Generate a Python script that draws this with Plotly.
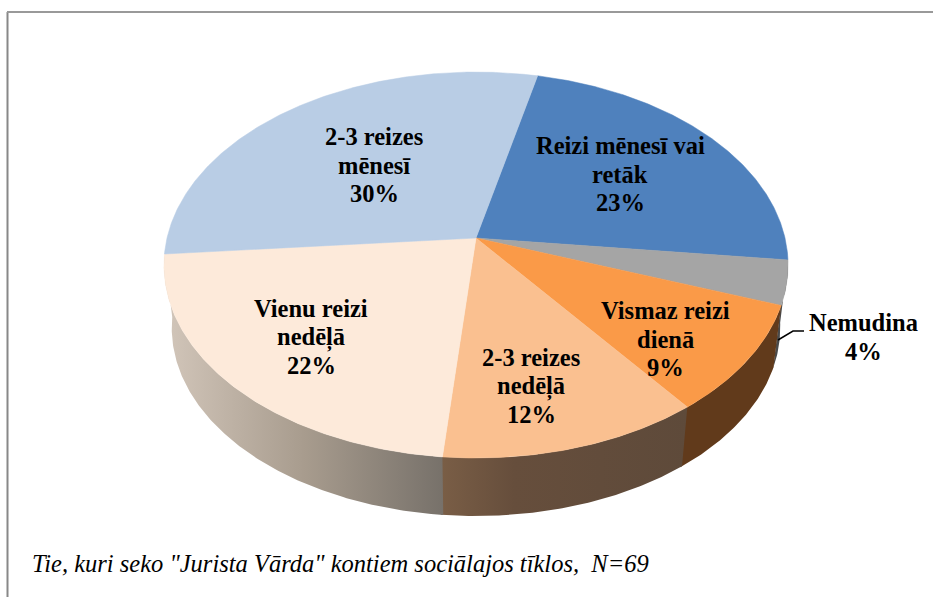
import math
import plotly.graph_objects as go

# ---- data, clockwise from the first slice ----
categories = ["Reizi mēnesī vai<br>retāk", "Nemudina", "Vismaz reizi<br>dienā",
              "2-3 reizes<br>nedēļā", "Vienu reizi<br>nedēļā", "2-3 reizes<br>mēnesī"]
shares = [23.2, 3.7, 9.1, 11.9, 22.2, 30.0]
labels = ["23%", "4%", "9%", "12%", "22%", "30%"]
footnote = 'Tie, kuri seko "Jurista Vārda" kontiem sociālajos tīklos,  N=69'

# ---- styles ----
top_colors = ["#4f81bd", "#a5a5a5", "#fa9a48", "#fac090", "#fdeada", "#b9cde5"]
wall_scales = {
    1: [[0, "#4a4a4a"], [1, "#4a4a4a"]],
    2: [[0, "#613a1b"], [1, "#613a1b"]],
    3: [[0, "#7a5e46"], [0.3, "#664e3c"], [1, "#5e4a3a"]],
    4: [[0, "#d2c6ba"], [0.5, "#a89c8e"], [1, "#77716a"]],
}
label_xy = [(620, 174), (863, 337), (665, 339), (531, 386), (311, 337), (374, 165)]
LINE_STEP = 28.5

# ---- 3-D projection of the pie disc onto the page ----
START = 13.1
APEX = (476, 238)
RX, RY, K = 309.0, 189.2, 0.14
DEPTH, BOTTOM_SCALE = 63.5, 0.975


def project(angle, bottom=False):
    t = math.radians(angle)
    u, v = math.sin(t), math.cos(t)
    s = BOTTOM_SCALE if bottom else 1.0
    w = 1 + K * v
    return (APEX[0] + s * RX * u / w,
            APEX[1] + (DEPTH if bottom else 0) - s * RY * v / w)


edges = [START]
total = sum(shares)
for value in shares:
    edges.append(edges[-1] + value / total * 360)


def arc(a, b, **kw):
    n = max(2, int(abs(b - a) * 2))
    return [project(a + (b - a) * i / n, **kw) for i in range(n + 1)]


fig = go.Figure()

# side walls, back to front; each runs slightly under the next to hide seams
for i in (1, 2, 3, 4):
    a, b = edges[i], edges[i + 1] + (0.4 if i < 4 else 0)
    pts = arc(a, b) + arc(b, a, bottom=True)
    xs = [p[0] for p in pts] + [pts[0][0]]
    ys = [p[1] for p in pts] + [pts[0][1]]
    fig.add_trace(go.Scatter(
        x=xs, y=ys, mode="lines", line=dict(width=0), hoverinfo="skip",
        fill="toself",
        fillgradient=dict(type="horizontal", colorscale=wall_scales[i],
                          start=min(xs), stop=max(xs)),
    ))

# top faces
for i, color in enumerate(top_colors):
    pts = [APEX] + arc(edges[i], edges[i + 1]) + [APEX]
    fig.add_trace(go.Scatter(
        x=[p[0] for p in pts], y=[p[1] for p in pts], mode="lines",
        line=dict(width=0.5, color=color), fill="toself", fillcolor=color,
        hoverinfo="skip",
    ))

# leader line for the small slice
fig.add_trace(go.Scatter(x=[778, 793, 804], y=[340, 331, 331], mode="lines",
                         line=dict(color="#000000", width=1.5), hoverinfo="skip"))

FONT = "Liberation Serif"
for name, pct, (x, y) in zip(categories, labels, label_xy):
    rows = name.split("<br>") + [pct]
    for r, row in enumerate(rows):
        fig.add_annotation(x=x, y=y + (r - (len(rows) - 1) / 2) * LINE_STEP,
                           text=f"<b>{row}</b>", showarrow=False,
                           font=dict(family=FONT, size=24.5, color="#000000"),
                           align="center", xanchor="center", yanchor="middle")
fig.add_annotation(x=30, y=563, text=f"<i>{footnote}</i>", showarrow=False,
                   font=dict(family=FONT, size=24.5, color="#000000"),
                   xanchor="left", yanchor="middle")

fig.update_layout(
    width=933, height=597, margin=dict(l=0, r=0, t=0, b=0),
    paper_bgcolor="#ffffff", plot_bgcolor="#ffffff", showlegend=False,
    xaxis=dict(range=[0, 933], visible=False, fixedrange=True),
    yaxis=dict(range=[597, 0], visible=False, fixedrange=True),
    shapes=[dict(type="line", xref="x", yref="y", x0=7.5, y0=597, x1=7.5, y1=12,
                 line=dict(color="#888888", width=2)),
            dict(type="line", xref="x", yref="y", x0=7, y0=12, x1=933, y1=12,
                 line=dict(color="#999999", width=2))],
)

fig.write_html("out.html", config=dict(displayModeBar=False),
               post_script="document.body.style.margin='0';document.documentElement.style.overflow='hidden';")
